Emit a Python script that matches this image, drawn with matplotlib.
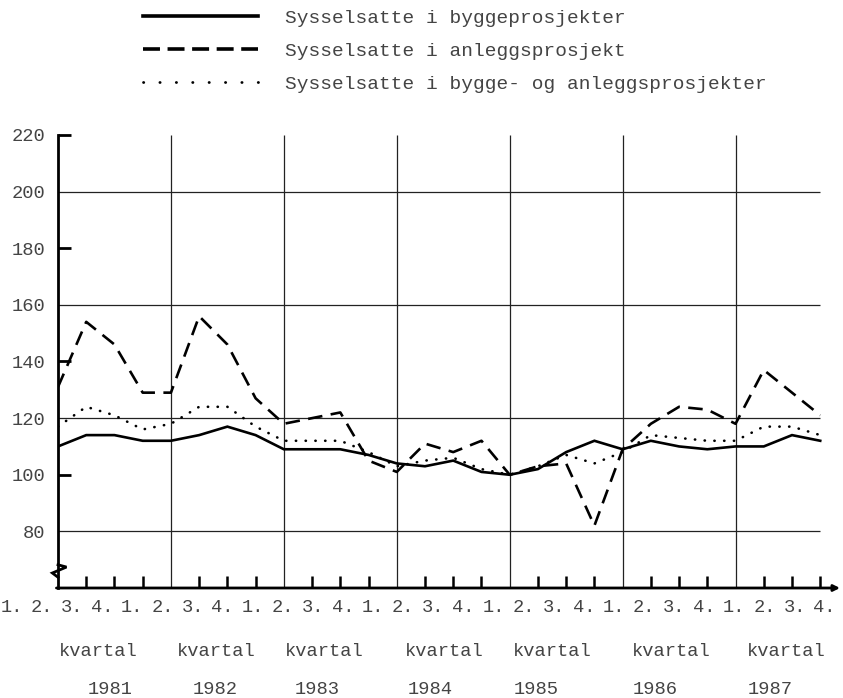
import matplotlib
matplotlib.use('Agg')
import numpy as np
from matplotlib import pyplot as plt
from matplotlib.lines import Line2D

# sysselsatte, indeks (1.kv 1985 = 100), 1. kvartal 1981 - 4. kvartal 1987
bygg = [110, 114, 114, 112, 112, 114, 117, 114, 109, 109, 109, 107, 104, 103,
        105, 101, 100, 102, 108, 112, 109, 112, 110, 109, 110, 110, 114, 112]
anlegg = [131, 154, 146, 129, 129, 156, 146, 127, 118, 120, 122, 105, 101, 111,
          108, 112, 100, 103, 104, 82, 109, 118, 124, 123, 118, 137, 129, 121]
totalt = [117, 124, 121, 116, 118, 124, 124, 117, 112, 112, 112, 108, 103, 105,
          106, 102, 100, 103, 107, 104, 108, 114, 113, 112, 112, 117, 117, 114]

years = ['1981', '1982', '1983', '1984', '1985', '1986', '1987']
quarters = ['1.', '2.', '3.', '4.']
yticks = [80, 100, 120, 140, 160, 180, 200, 220]
labels = ['Sysselsatte i byggeprosjekter',
          'Sysselsatte i anleggsprosjekt',
          'Sysselsatte i bygge- og anleggsprosjekter']

font = 'Liberation Mono'
tcol = '#444444'
W, H = 843, 698

fig = plt.figure(figsize=(W / 100, H / 100), dpi=100)
ax = fig.add_axes([58 / W, 1 - 588 / H, (840 - 58) / W, (588 - 135) / H])

x = np.arange(len(bygg))
ax.plot(x, bygg, color='black', lw=1.9, solid_joinstyle='miter')
ax.plot(x, anlegg, color='black', lw=1.9, linestyle=(0, (5.5, 3.2)))
ax.plot(x, totalt, color='black', lw=1.9, linestyle=(0, (0.1, 3.6)),
        dash_capstyle='round')

ax.set_xlim(0, 27.7)
ax.set_ylim(60, 220)

# rutenett
ax.hlines([80, 120, 160, 200], 0, len(x) - 1, color='#222', lw=0.9, zorder=0)
ax.vlines(np.arange(4, len(x), 4), 60, 220, color='#222', lw=0.9, zorder=0)

for s in ['top', 'right', 'bottom']:
    ax.spines[s].set_visible(False)
ax.spines['left'].set_linewidth(2)

ax.set_yticks(yticks)
ax.set_yticklabels([str(v) for v in yticks], fontfamily=font, fontsize=13.5,
                   color=tcol)
ax.tick_params(axis='y', length=0, pad=9)
ax.yaxis.remove_overlapping_locs = False
ax.set_yticks([100, 140, 180, 220], minor=True)
ax.tick_params(axis='y', which='minor', direction='in', length=9, width=2)

ax.set_xticks([q for q in x if q % 4 != 0])
ax.set_xticklabels([])
ax.tick_params(axis='x', direction='in', length=9, width=1.8)

# x-akse med pil
ax.annotate('', xy=(1.0, 0), xytext=(-0.002, 0), xycoords='axes fraction',
            arrowprops=dict(arrowstyle='-|>', lw=2, color='black',
                            mutation_scale=9, shrinkA=0, shrinkB=0))
# brudd i y-aksen
ax.plot([0, 0.3, -0.2, 0], [68.2, 67.4, 65.3, 63.8],
        color='black', lw=2, clip_on=False, solid_joinstyle='miter')

# kvartal under aksen
qx0, qstep = 12, 30.1
for i in range(len(x)):
    fig.text((qx0 + i * qstep) / W, 1 - 607 / H, quarters[i % 4],
             ha='center', va='center', fontfamily=font, fontsize=13.5,
             color=tcol)
kv_x = [98, 216, 324, 444, 552, 671, 786]
yr_x = [110, 215, 317, 430, 536, 655, 770]
for i, yr in enumerate(years):
    fig.text(kv_x[i] / W, 1 - 651 / H, 'kvartal', ha='center', va='center',
             fontfamily=font, fontsize=13.5, color=tcol)
    fig.text(yr_x[i] / W, 1 - 690 / H, yr, ha='center', va='center',
             fontfamily=font, fontsize=13.5, color=tcol)

# tegnforklaring med egne symboler
h1 = Line2D([], [], color='black', lw=2.6)
h2 = Line2D([], [], color='black', lw=2.6, linestyle=(0, (4.7, 2.1)))
h3 = Line2D([], [], color='black', lw=2.0, linestyle=(0, (0.1, 5.8)),
            dash_capstyle='round')
leg = ax.legend([h1, h2, h3], labels, loc='upper left',
                bbox_to_anchor=(143 / W, 1 - 9 / H),
                bbox_transform=fig.transFigure, frameon=False,
                prop={'family': font, 'size': 14}, handlelength=5.9,
                handletextpad=1.4, labelspacing=0.8, borderpad=0,
                borderaxespad=0)
for t in leg.get_texts():
    t.set_color(tcol)

plt.savefig('out.png', dpi=100)
